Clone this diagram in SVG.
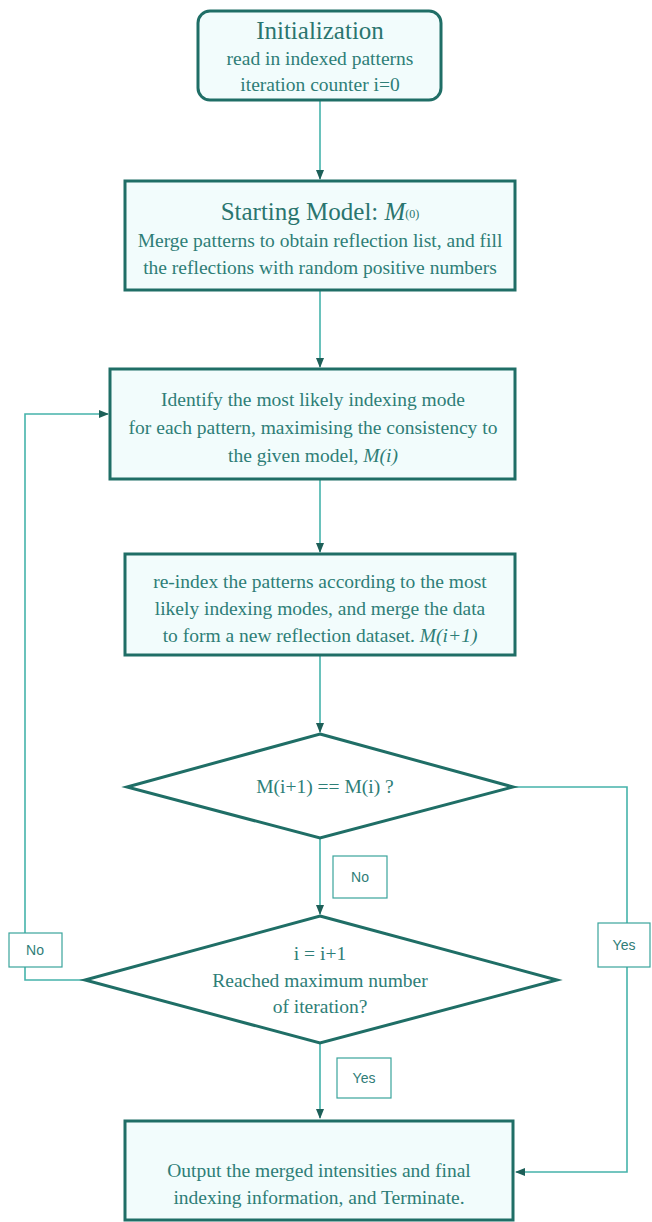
<svg xmlns="http://www.w3.org/2000/svg" width="652" height="1222" viewBox="0 0 652 1222">
<style>
.box{fill:#f2fcfc;stroke:#1f6e66;stroke-width:3}
.dia{fill:#ffffff;stroke:#1f6e66;stroke-width:3}
.t{font-family:"Liberation Serif",serif;font-size:19.5px;fill:#2e7e77;text-anchor:middle}
.h{font-family:"Liberation Serif",serif;font-size:25px;fill:#2a756f;text-anchor:middle}
.c{fill:none;stroke:#45b3ab;stroke-width:1.6}
.lb{fill:#ffffff;stroke:#3aa49c;stroke-width:1.2}
.lt{font-family:"Liberation Sans",sans-serif;font-size:14px;fill:#2f7d77;text-anchor:middle}
</style>
<defs>
<marker id="ah" markerWidth="10" markerHeight="10" refX="9" refY="5" orient="auto" markerUnits="userSpaceOnUse">
<path d="M0,1 L10,5 L0,9 Z" fill="#1d5f58"/>
</marker>
</defs>
<g id="connectors">
<line class="c" x1="320" y1="101" x2="320" y2="179" marker-end="url(#ah)"/>
<line class="c" x1="320" y1="291" x2="320" y2="367" marker-end="url(#ah)"/>
<line class="c" x1="320" y1="480" x2="320" y2="552" marker-end="url(#ah)"/>
<line class="c" x1="320" y1="656" x2="320" y2="732" marker-end="url(#ah)"/>
<line class="c" x1="320" y1="839" x2="320" y2="914" marker-end="url(#ah)"/>
<line class="c" x1="320" y1="1044" x2="320" y2="1118" marker-end="url(#ah)"/>
<polyline class="c" points="85,980 25,980 25,414 108,414" marker-end="url(#ah)"/>
<polyline class="c" points="513,787 627,787 627,1172 516,1172" marker-end="url(#ah)"/>
</g>
<g id="n1">
<rect class="box" x="198" y="11" width="243" height="89" rx="12"/>
<text class="h" x="320" y="39">Initialization</text>
<text class="t" x="320" y="65">read in indexed patterns</text>
<text class="t" x="320" y="91">iteration counter i=0</text>
</g>
<g id="n2">
<rect class="box" x="125" y="181" width="390" height="109"/>
<text class="h" x="320" y="220" font-size="26">Starting Model: <tspan font-style="italic">M</tspan><tspan font-size="12" dy="-2">(0)</tspan></text>
<text class="t" x="320" y="247">Merge patterns to obtain reflection list, and fill</text>
<text class="t" x="320" y="274">the reflections with random positive numbers</text>
</g>
<g id="n3">
<rect class="box" x="110" y="369" width="405" height="110"/>
<text class="t" x="313" y="406">Identify the most likely indexing mode</text>
<text class="t" x="313" y="434">for each pattern, maximising the consistency to</text>
<text class="t" x="313" y="462">the given model, <tspan font-style="italic">M(i)</tspan></text>
</g>
<g id="n4">
<rect class="box" x="125" y="554" width="390" height="101"/>
<text class="t" x="320" y="588">re-index the patterns according to the most</text>
<text class="t" x="320" y="615">likely indexing modes, and merge the data</text>
<text class="t" x="320" y="642">to form a new reflection dataset. <tspan font-style="italic">M(i+1)</tspan></text>
</g>
<g id="d1">
<polygon class="dia" points="320,734 513,787 320,838 127,787"/>
<text class="t" x="325" y="793" font-size="16">M(i+1) == M(i) ?</text>
</g>
<g id="d2">
<polygon class="dia" points="320,916 557,980 320,1043 85,980"/>
<text class="t" x="320" y="960" font-size="16">i = i+1</text>
<text class="t" x="320" y="987">Reached maximum number</text>
<text class="t" x="320" y="1013">of iteration?</text>
</g>
<g id="n5">
<rect class="box" x="125" y="1121" width="388" height="99"/>
<text class="t" x="319" y="1177">Output the merged intensities and final</text>
<text class="t" x="319" y="1204">indexing information, and Terminate.</text>
</g>
<g id="labels">
<g id="l1"><rect class="lb" x="333" y="856" width="54" height="42"/><text class="lt" x="360" y="882">No</text></g>
<g id="l2"><rect class="lb" x="9" y="933" width="53" height="34"/><text class="lt" x="35" y="955">No</text></g>
<g id="l3"><rect class="lb" x="598" y="923" width="52" height="44"/><text class="lt" x="624" y="950">Yes</text></g>
<g id="l4"><rect class="lb" x="337" y="1058" width="54" height="40"/><text class="lt" x="364" y="1083">Yes</text></g>
</g>
</svg>
